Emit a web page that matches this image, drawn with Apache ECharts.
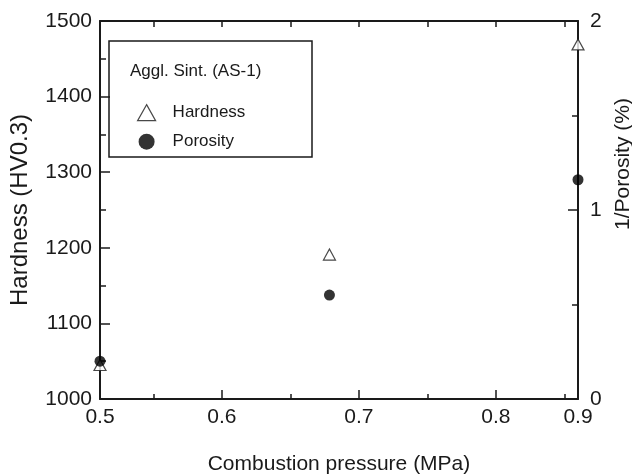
<!DOCTYPE html>
<html>
<head>
<meta charset="utf-8">
<script src="https://cdn.jsdelivr.net/npm/echarts@6/dist/echarts.min.js"></script>
<style>
  html, body { margin: 0; padding: 0; background: #fff; }
  #chart { width: 632px; height: 476px; }
</style>
</head>
<body>
<div id="chart"></div>
<script>
// data
const pressure = [0.5, 0.692, 0.9]           // MPa
const hardness = [1045, 1191, 1469]          // HV0.3
const invPorosity = [0.2, 0.55, 1.16]        // 1/Porosity (%)

// the printed x ruler is not quite linear with the end labels,
// so the inner ticks live on their own axis
const rulerMin = 0.511
const rulerMax = 0.86
const majorTicks = [0.6, 0.7, 0.8]
const minorTicks = [0.55, 0.65, 0.75, 0.85]
const endLabels = [0.5, 0.9]

const ink = '#1a1a1a'
const font = 'Liberation Sans, Arial, sans-serif'

const chart = echarts.init(document.getElementById('chart'))

const hiddenLine = { show: false }
const tickStyle = { color: ink, width: 1.5 }

let option = {
  backgroundColor: '#fff',
  animation: false,
  textStyle: { fontFamily: font, color: ink },
  grid: { left: 100, right: 54, top: 21, bottom: 77, outerBoundsMode: 'none', containLabel: false },
  title: {
    text: 'Aggl. Sint. (AS-1)',
    left: 130,
    top: 63,
    padding: 0,
    textStyle: { fontSize: 17, fontWeight: 'normal', color: ink, fontFamily: font }
  },
  legend: {
    orient: 'vertical',
    left: 132,
    top: 99,
    itemWidth: 18,
    itemHeight: 16,
    itemGap: 12,
    textStyle: { fontSize: 17, color: ink, fontFamily: font, padding: [0, 0, 0, 12] },
    data: [
      { name: 'Hardness', icon: 'triangle', itemStyle: { color: '#fff', borderColor: ink, borderWidth: 1.2 } },
      { name: 'Porosity', icon: 'circle', itemStyle: { color: '#000' } }
    ]
  },
  graphic: [{
    type: 'rect',
    shape: { x: 109, y: 41, width: 203, height: 116 },
    style: { fill: 'none', stroke: ink, lineWidth: 1.5 },
    z: 1
  }],
  xAxis: [
    { // major ruler ticks + labels
      type: 'value', min: rulerMin, max: rulerMax, position: 'bottom',
      axisLine: hiddenLine,
      axisTick: { show: true, inside: true, length: 9, lineStyle: tickStyle, customValues: majorTicks },
      axisLabel: { fontSize: 21, color: ink, margin: 8, customValues: majorTicks, formatter: v => v.toFixed(1) },
      splitLine: { show: false }
    },
    { // minor ruler ticks
      type: 'value', min: rulerMin, max: rulerMax, position: 'bottom',
      axisLine: hiddenLine,
      axisTick: { show: true, inside: true, length: 5, lineStyle: tickStyle, customValues: minorTicks },
      axisLabel: { show: false },
      splitLine: { show: false }
    },
    { // data axis
      type: 'value', min: 0.5, max: 0.9, position: 'bottom',
      name: 'Combustion pressure (MPa)',
      nameLocation: 'middle',
      nameGap: 55,
      nameTextStyle: { fontSize: 21, color: ink },
      axisLine: { show: true, lineStyle: { color: ink, width: 2 } },
      axisTick: { show: false },
      axisLabel: { fontSize: 21, color: ink, margin: 8, customValues: endLabels, formatter: v => v.toFixed(1) },
      splitLine: { show: false }
    },
    { // top frame
      type: 'value', min: rulerMin, max: rulerMax, position: 'top',
      axisLine: { show: true, lineStyle: { color: ink, width: 2 } },
      axisTick: { show: true, inside: true, length: 6, lineStyle: tickStyle, customValues: majorTicks.concat(minorTicks) },
      axisLabel: { show: false },
      splitLine: { show: false }
    }
  ],
  yAxis: [
    {
      type: 'value', min: 1000, max: 1500, interval: 100, position: 'left',
      name: 'Hardness (HV0.3)',
      nameLocation: 'middle',
      nameGap: 68,
      nameTextStyle: { fontSize: 24, color: ink },
      axisLine: { show: true, lineStyle: { color: ink, width: 2 } },
      axisTick: { show: true, inside: true, length: 10, lineStyle: tickStyle },
      minorTick: { show: true, splitNumber: 2, length: 6, lineStyle: tickStyle },
      axisLabel: { fontSize: 21, color: ink, margin: 8, formatter: v => String(v) },
      splitLine: { show: false },
      minorSplitLine: { show: false }
    },
    {
      type: 'value', min: 0, max: 2, interval: 1, position: 'right',
      name: '1/Porosity (%)',
      nameLocation: 'middle',
      nameGap: 30,
      nameRotate: 90,
      nameTextStyle: { fontSize: 21, color: ink, padding: [0, 0, 0, 92] },
      axisLine: { show: true, lineStyle: { color: ink, width: 2 } },
      axisTick: { show: true, inside: true, length: 10, lineStyle: tickStyle },
      minorTick: { show: true, splitNumber: 2, length: 6, lineStyle: tickStyle },
      axisLabel: { fontSize: 21, color: ink, margin: 12 },
      splitLine: { show: false },
      minorSplitLine: { show: false }
    }
  ],
  series: [
    {
      name: 'Hardness',
      type: 'scatter',
      xAxisIndex: 2,
      yAxisIndex: 0,
      symbol: 'triangle',
      symbolSize: [12, 11],
      clip: false,
      itemStyle: { color: '#fff', borderColor: ink, borderWidth: 1.2 },
      data: pressure.map((p, i) => [p, hardness[i]]),
      z: 3
    },
    {
      name: 'Porosity',
      type: 'scatter',
      xAxisIndex: 2,
      yAxisIndex: 1,
      symbol: 'circle',
      symbolSize: 11,
      clip: false,
      itemStyle: { color: '#000' },
      data: pressure.map((p, i) => [p, invPorosity[i]]),
      z: 4
    }
  ]
}

chart.setOption(option)
</script>
</body>
</html>
